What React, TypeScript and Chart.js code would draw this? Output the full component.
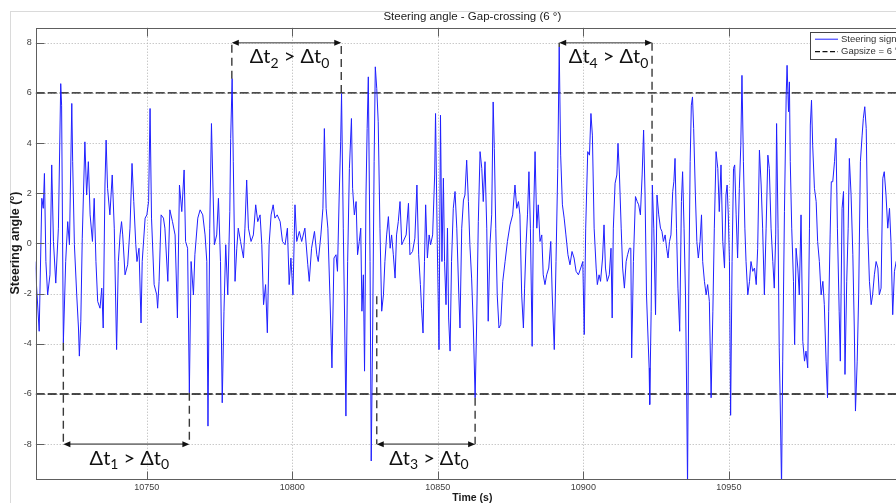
import React, { useEffect, useRef } from "react";
import { Chart, registerables } from "chart.js";
Chart.register(...registerables);

const FONT = '"Liberation Sans", Arial, Helvetica, sans-serif';
const ANNOT_FONT = 'Lato, "Open Sans", sans-serif';

// ---- data ----
const timeS = [
  10711.6, 10713.0, 10713.9, 10714.4, 10714.8, 10715.3, 10715.9, 10716.7, 10717.3, 10717.9,
  10718.7, 10719.6, 10720.4, 10720.7, 10721.3, 10722.1, 10722.8, 10723.4, 10724.2, 10724.5,
  10725.1, 10725.9, 10726.5, 10726.8, 10727.3, 10727.8, 10728.7, 10729.3, 10729.9, 10730.5,
  10731.3, 10731.9, 10732.5, 10733.1, 10733.9, 10734.5, 10735.0, 10735.6, 10736.0, 10736.5,
  10737.3, 10738.1, 10738.8, 10739.6, 10740.2, 10740.8, 10741.3, 10741.7, 10742.5, 10743.4,
  10744.2, 10744.9, 10745.5, 10746.2, 10746.6, 10747.3, 10748.0, 10748.4, 10749.4, 10750.0,
  10750.6, 10751.1, 10751.6, 10752.5, 10753.4, 10753.7, 10754.2, 10754.9, 10755.7, 10756.2,
  10757.2, 10757.9, 10758.8, 10759.7, 10760.5, 10761.2, 10762.0, 10762.8, 10763.3, 10764.0,
  10764.6, 10765.2, 10766.0, 10766.5, 10767.5, 10768.3, 10769.2, 10770.0, 10770.6, 10771.0,
  10771.6, 10772.2, 10772.7, 10773.2, 10774.0, 10774.6, 10775.3, 10775.9, 10776.5, 10777.1,
  10777.8, 10778.5, 10778.8, 10779.3, 10779.7, 10780.3, 10780.9, 10781.4, 10782.2, 10783.2,
  10783.7, 10784.3, 10784.9, 10785.8, 10786.6, 10787.4, 10788.1, 10788.9, 10789.5, 10790.1,
  10790.8, 10791.4, 10792.0, 10792.7, 10793.4, 10794.0, 10794.8, 10795.8, 10796.6, 10797.5,
  10798.3, 10798.9, 10799.5, 10800.2, 10800.9, 10801.5, 10802.4, 10803.2, 10804.3, 10805.3,
  10805.8, 10806.6, 10807.6, 10808.4, 10808.9, 10809.8, 10810.5, 10811.0, 10811.6, 10812.2,
  10812.9, 10813.6, 10814.3, 10815.0, 10815.5, 10816.1, 10816.6, 10816.9, 10817.5, 10818.0,
  10818.4, 10819.0, 10819.6, 10820.3, 10820.7, 10821.3, 10821.9, 10822.4, 10823.0, 10823.5,
  10823.9, 10824.4, 10824.8, 10825.3, 10825.7, 10826.1, 10826.7, 10827.1, 10827.6, 10828.1,
  10828.5, 10829.0, 10829.5, 10830.1, 10830.7, 10831.3, 10831.8, 10832.4, 10833.0, 10833.6,
  10834.1, 10834.7, 10835.3, 10835.8, 10836.4, 10837.0, 10837.6, 10838.1, 10839.1, 10839.9,
  10840.4, 10841.3, 10842.1, 10842.8, 10843.4, 10844.0, 10844.4, 10844.9, 10845.4, 10845.8,
  10846.4, 10847.0, 10847.5, 10848.2, 10848.9, 10849.2, 10849.8, 10850.4, 10850.9, 10851.4,
  10851.9, 10852.3, 10852.8, 10853.3, 10853.7, 10854.2, 10854.7, 10855.3, 10855.9, 10856.5,
  10857.2, 10857.6, 10858.2, 10858.8, 10859.3, 10859.9, 10860.5, 10861.0, 10861.6, 10862.2,
  10862.8, 10863.3, 10863.9, 10864.5, 10865.1, 10865.6, 10866.2, 10866.8, 10867.3, 10867.9,
  10868.5, 10869.0, 10869.4, 10869.9, 10870.4, 10871.0, 10871.6, 10872.3, 10873.1, 10873.9,
  10874.8, 10875.7, 10876.5, 10877.1, 10877.7, 10878.2, 10878.8, 10879.4, 10879.8, 10880.3,
  10880.8, 10881.3, 10881.8, 10882.4, 10882.8, 10883.4, 10884.0, 10884.5, 10885.1, 10885.7,
  10886.2, 10886.8, 10887.4, 10888.1, 10888.8, 10889.3, 10890.0, 10890.6, 10891.2, 10891.7,
  10892.2, 10892.8, 10893.4, 10894.0, 10894.7, 10895.4, 10896.1, 10896.8, 10897.5, 10898.3,
  10899.1, 10899.8, 10900.3, 10900.8, 10901.5, 10902.1, 10902.6, 10903.1, 10903.7, 10904.4,
  10904.8, 10905.4, 10905.9, 10906.6, 10907.1, 10907.6, 10908.2, 10908.9, 10909.5, 10909.9,
  10910.3, 10910.9, 10911.5, 10911.9, 10912.4, 10913.0, 10913.5, 10914.1, 10914.7, 10915.2,
  10915.8, 10916.3, 10916.6, 10917.2, 10917.9, 10918.5, 10919.0, 10919.6, 10920.2, 10920.7,
  10921.2, 10921.7, 10922.1, 10922.6, 10922.8, 10923.3, 10923.7, 10924.2, 10924.8, 10925.3,
  10925.9, 10926.5, 10927.0, 10927.5, 10928.1, 10928.6, 10929.1, 10929.6, 10930.1, 10930.7,
  10931.1, 10931.5, 10932.0, 10932.5, 10933.1, 10933.7, 10934.1, 10934.6, 10935.1, 10935.5,
  10935.8, 10936.2, 10936.7, 10937.1, 10937.5, 10937.9, 10938.5, 10939.0, 10939.5, 10940.1,
  10940.6, 10941.0, 10941.6, 10942.2, 10942.7, 10943.3, 10943.9, 10944.5, 10945.0, 10945.6,
  10946.2, 10946.7, 10947.3, 10947.9, 10948.5, 10949.0, 10949.4, 10949.8, 10950.2, 10950.6,
  10951.1, 10951.6, 10952.0, 10952.5, 10953.0, 10953.6, 10954.1, 10954.5, 10955.0, 10955.5,
  10955.9, 10956.5, 10957.1, 10957.6, 10958.2, 10958.8, 10959.4, 10959.9, 10960.5, 10961.1,
  10961.6, 10962.2, 10962.8, 10963.4, 10963.9, 10964.5, 10965.1, 10965.6, 10966.1, 10966.4,
  10966.9, 10967.3, 10967.6, 10968.1, 10968.5, 10969.1, 10969.7, 10970.0, 10970.5, 10970.8,
  10971.1, 10971.6, 10972.2, 10972.6, 10973.1, 10973.7, 10974.2, 10974.8, 10975.4, 10976.0,
  10976.5, 10977.1, 10977.7, 10978.0, 10978.4, 10978.8, 10979.4, 10980.0, 10980.5, 10981.1,
  10981.7, 10982.3, 10982.8, 10983.4, 10983.9, 10984.3, 10984.8, 10985.2, 10985.7, 10986.3,
  10986.8, 10987.3, 10987.9, 10988.3, 10988.9, 10989.4, 10989.9, 10990.5, 10991.0, 10991.4,
  10992.0, 10992.6, 10993.1, 10993.5, 10994.1, 10994.6, 10995.2, 10995.8, 10996.2, 10996.7,
  10997.2, 10997.7, 10998.3, 10998.9, 10999.4, 11000.0, 11000.6, 11001.2, 11001.7, 11002.3,
  11002.9, 11003.4, 11004.0, 11004.6, 11005.2, 11005.7, 11006.3, 11006.9, 11007.5, 11009.0,
  11010.5, 11012.0,
];

const steering = [
  -0.72, -3.50, 1.80, 1.40, 2.79, -0.72, -2.05, -1.25, 3.13, 0.08,
  -1.58, 0.61, 6.37, 5.51, -3.96, -0.72, 0.87, -0.05, 5.58, 3.26,
  -0.05, -2.05, -3.37, -4.49, -3.10, 0.21, 4.05, 1.93, 3.26, 1.14,
  0.08, 1.80, -0.72, -2.31, -2.58, -1.78, -3.37, 2.33, 4.12, 2.20,
  1.14, 2.73, 0.61, -4.23, -0.72, 0.34, 0.87, 0.34, -1.25, -0.85,
  0.61, 3.19, 1.67, -0.05, -0.72, -0.19, -3.17, -0.72, 1.01, 1.14,
  1.67, 5.38, 1.01, -1.64, -2.05, -2.58, -1.51, 1.14, 1.01, 0.61,
  -1.51, 1.34, 0.87, 0.34, -2.97, 2.33, 1.27, 2.93, 0.08, -0.19,
  -5.95, -0.72, -2.05, -0.45, 1.01, 1.34, 1.14, 0.34, -0.72, -7.28,
  0.61, 4.78, 2.33, -0.05, 0.34, 1.80, -0.72, -6.35, -2.70, -0.05,
  -2.05, 1.27, 4.19, 6.57, 3.26, -1.51, -0.19, 0.61, 0.08, -0.58,
  0.61, 2.53, 0.61, 0.08, 0.34, 1.54, 0.87, 1.14, -0.05, -2.44,
  -1.64, -3.56, -0.05, 1.14, 1.54, 1.01, 1.14, 0.87, 0.08, -0.05,
  0.61, -1.64, -0.58, -2.05, 1.54, 0.08, 0.48, 0.08, 0.61, -0.85,
  -1.51, -0.19, 0.48, -0.45, -0.72, 0.34, 1.40, 4.58, 1.40, 0.61,
  -2.05, -4.96, -0.58, -0.45, -1.11, 1.93, 4.05, 5.97, 0.61, -3.37,
  -6.88, -0.72, 2.99, 4.98, 2.20, 1.14, 1.67, -0.45, 0.08, 0.61,
  -2.70, -1.25, -5.09, 1.93, 4.58, 6.64, -0.72, -8.67, -3.37, 3.26,
  7.04, 6.17, 4.85, 0.61, -2.70, -2.05, -0.72, 0.34, 1.07, -0.19,
  0.34, -0.45, -1.38, 0.34, 0.87, 1.67, -0.05, 0.08, 0.34, 1.60,
  -0.45, -0.32, 0.21, 2.33, -0.45, -1.64, -2.58, -3.57, -0.72, 1.54,
  -0.58, 0.34, -0.05, 0.34, 2.73, 5.18, -0.05, -4.23, 5.11, -0.72,
  2.60, -0.72, -2.44, 0.61, -2.97, -4.29, -0.72, 1.40, 2.07, 0.61,
  -2.05, -3.37, 0.61, 1.73, 1.93, 3.32, 1.67, -0.05, -1.38, -3.37,
  -6.15, -3.37, 0.87, 3.66, 2.99, 1.67, 3.26, 0.61, -3.10, -0.05,
  1.14, 5.64, 3.79, 0.61, -2.05, -3.37, -3.23, -1.51, -0.72, 0.08,
  0.74, 1.14, 2.33, 1.40, 1.67, 1.14, -2.05, -3.37, -1.78, -0.05,
  1.14, 2.86, 0.61, -4.10, 0.61, 3.66, 0.61, 1.54, 0.08, 0.34,
  -1.25, -1.64, -1.25, -0.98, 0.08, -2.05, -4.23, -0.72, 2.99, 7.83,
  3.52, 1.54, 1.01, 0.34, -0.45, -0.85, -0.32, -0.58, -1.11, -1.25,
  -0.98, -0.72, -3.63, 0.61, 3.66, 3.52, 5.18, 4.32, 0.61, -0.98,
  -1.64, -1.25, -1.51, -0.58, 0.74, -0.98, -1.51, -1.25, -0.19, -2.97,
  0.61, 2.40, 2.73, 3.99, 2.73, 0.61, -0.98, -1.78, -0.72, -0.45,
  -0.19, -0.19, -4.56, -0.72, 1.87, 1.67, 1.54, 1.14, 2.73, 4.52,
  1.93, -2.05, -3.37, -4.96, -6.42, -2.70, 2.33, 0.61, -2.84, 1.93,
  1.14, 0.61, 0.48, 0.08, 0.34, -0.19, -0.58, 0.08, 0.34, 2.07,
  2.46, 3.39, 0.61, -1.78, -3.50, 1.67, 2.86, 0.61, -2.05, -6.02,
  -9.73, -2.05, 3.26, 5.51, 5.84, 4.58, 1.93, 0.08, -0.58, 0.08,
  1.14, -0.72, -1.51, -2.05, -1.64, -2.31, -6.15, -2.70, 0.61, 3.66,
  2.99, 1.27, 3.13, 0.08, -0.98, 1.93, 2.33, 1.14, -0.72, -6.85,
  -0.72, 2.99, 3.13, 1.14, -0.58, 2.20, 3.92, 6.70, 3.26, 0.61,
  -0.72, -2.05, -1.51, -0.72, -1.11, -0.98, -1.64, -0.19, 3.72, 2.33,
  0.61, -2.05, 0.61, 3.52, 2.99, 0.61, -0.72, -1.78, 0.34, 4.78,
  0.61, -4.16, -6.02, -9.73, -4.69, 1.27, 5.91, 7.10, 5.25, 6.44,
  3.26, 0.61, -1.51, -4.03, -0.19, -0.98, -2.05, 1.14, -3.90, -4.69,
  -4.29, -4.96, 0.61, 4.72, 5.71, 3.92, 2.20, 1.67, 0.08, -0.72,
  -2.05, -1.51, -2.44, -4.69, -6.15, -2.70, 0.34, 2.46, 2.46, 3.26,
  4.19, 0.61, -2.70, -4.69, 1.40, 2.07, -5.22, -1.51, 0.61, 3.39,
  1.93, -0.45, -3.37, -6.68, -4.69, -2.05, 3.26, 4.32, 4.98, 5.45,
  4.58, 0.61, -1.51, -2.44, -2.05, -1.25, -0.72, -0.98, -2.05, -1.78,
  2.60, 2.86, 1.93, 0.61, 1.40, 0.08, -2.84, -1.11, -0.72, -1.50,
  0.40, 1.20,
];

const gapSize = 6;
const xTicks = [10750, 10800, 10850, 10900, 10950];
const yTicks = [-8, -6, -4, -2, 0, 2, 4, 6, 8];
const xMin = 10711.8;
const xMax = 11011.9;
const yMin = -9.4;
const yMax = 8.6;

// Δt annotations
const dtIndex = [1, 2, 3, 4];
const dtStart = [10721.3, 10779.2, 10829.0, 10891.7];
const dtEnd = [10764.6, 10816.8, 10862.8, 10923.6];
const dtArrowLevel = [-8, 8, -8, 8];
const dtStartFrom = [-3.96, 6.57, -2.1, 7.83];
const dtEndFrom = [-5.95, 6.0, -6.15, 2.5];

const chartTitle = "Steering angle - Gap-crossing (6 °)";
const xLabel = "Time (s)";
const yLabel = "Steering angle (°)";
const legendLabels = ["Steering signal", "Gapsize = 6 °"];

function drawDt(ctx: CanvasRenderingContext2D, cx: number, baseY: number, idx: number) {
  const big = `20px ${ANNOT_FONT}`;
  const small = `14px ${ANNOT_FONT}`;
  const parts: [string, boolean][] = [["Δt", false], [String(idx), true], [" > Δt", false], ["0", true]];
  let w = 0;
  parts.forEach(([t, s]) => {
    ctx.font = s ? small : big;
    w += ctx.measureText(t).width;
  });
  let xx = cx - w / 2;
  ctx.textAlign = "left";
  ctx.textBaseline = "alphabetic";
  ctx.fillStyle = "#111";
  parts.forEach(([t, s]) => {
    ctx.font = s ? small : big;
    ctx.fillText(t, xx, s ? baseY + 4.5 : baseY);
    xx += ctx.measureText(t).width;
  });
}

const matlabPlugin = {
  id: "matlab",
  beforeDatasetsDraw(chart: any) {
    const { ctx, chartArea: a, scales } = chart;
    const x = scales.x;
    const y = scales.y;
    ctx.save();
    ctx.strokeStyle = "#b0b0b0";
    ctx.lineWidth = 1;
    ctx.setLineDash([1, 2]);
    ctx.beginPath();
    xTicks.forEach((v) => {
      const p = Math.round(x.getPixelForValue(v)) + 0.5;
      ctx.moveTo(p, a.top);
      ctx.lineTo(p, a.bottom);
    });
    yTicks.forEach((v) => {
      const p = Math.round(y.getPixelForValue(v)) + 0.5;
      ctx.moveTo(a.left, p);
      ctx.lineTo(a.right, p);
    });
    ctx.stroke();
    ctx.restore();
  },
  afterDatasetsDraw(chart: any) {
    const { ctx, chartArea: a, scales } = chart;
    const x = scales.x;
    const y = scales.y;
    ctx.save();
    // axes box
    const L = Math.round(a.left) + 0.5;
    const T = Math.round(a.top) + 0.5;
    const R = Math.round(a.right) + 0.5;
    const B = Math.round(a.bottom) + 0.5;
    ctx.setLineDash([]);
    ctx.strokeStyle = "#5e5e5e";
    ctx.lineWidth = 1;
    ctx.strokeRect(L, T, R - L, B - T);
    // inward ticks
    const tl = 8;
    ctx.beginPath();
    xTicks.forEach((v) => {
      const p = Math.round(x.getPixelForValue(v)) + 0.5;
      ctx.moveTo(p, B);
      ctx.lineTo(p, B - tl);
      ctx.moveTo(p, T);
      ctx.lineTo(p, T + tl);
    });
    yTicks.forEach((v) => {
      const p = Math.round(y.getPixelForValue(v)) + 0.5;
      ctx.moveTo(L, p);
      ctx.lineTo(L + tl, p);
      ctx.moveTo(R, p);
      ctx.lineTo(R - tl, p);
    });
    ctx.stroke();

    // Δt annotations
    dtIndex.forEach((idx, i) => {
      const xs = x.getPixelForValue(dtStart[i]);
      const xe = x.getPixelForValue(dtEnd[i]);
      const ya = y.getPixelForValue(dtArrowLevel[i]);
      ctx.strokeStyle = "#3a3a3a";
      ctx.lineWidth = 1.4;
      ctx.setLineDash([8, 5]);
      ctx.beginPath();
      ctx.moveTo(xs, y.getPixelForValue(dtStartFrom[i]));
      ctx.lineTo(xs, ya);
      ctx.moveTo(xe, y.getPixelForValue(dtEndFrom[i]));
      ctx.lineTo(xe, ya);
      ctx.stroke();
      ctx.setLineDash([]);
      ctx.strokeStyle = "#7a7a7a";
      ctx.lineWidth = 1.7;
      ctx.beginPath();
      ctx.moveTo(xs + 5, ya);
      ctx.lineTo(xe - 5, ya);
      ctx.stroke();
      ctx.fillStyle = "#111";
      ctx.beginPath();
      ctx.moveTo(xs, ya);
      ctx.lineTo(xs + 7, ya - 3);
      ctx.lineTo(xs + 7, ya + 3);
      ctx.closePath();
      ctx.fill();
      ctx.beginPath();
      ctx.moveTo(xe, ya);
      ctx.lineTo(xe - 7, ya - 3);
      ctx.lineTo(xe - 7, ya + 3);
      ctx.closePath();
      ctx.fill();
      drawDt(ctx, (xs + xe) / 2 + 3, ya + 20.5, idx);
    });

    // legend
    const lx = a.right - 99;
    const ly = a.top + 4;
    ctx.fillStyle = "#fff";
    ctx.fillRect(lx, ly, 112, 27);
    ctx.strokeStyle = "#444";
    ctx.lineWidth = 1;
    ctx.strokeRect(Math.round(lx) + 0.5, Math.round(ly) + 0.5, 112, 27);
    ctx.strokeStyle = "#2020ff";
    ctx.lineWidth = 1;
    ctx.beginPath();
    ctx.moveTo(lx + 5, ly + 7.5);
    ctx.lineTo(lx + 28, ly + 7.5);
    ctx.stroke();
    ctx.strokeStyle = "#111";
    ctx.lineWidth = 1.3;
    ctx.setLineDash([5, 2.5]);
    ctx.beginPath();
    ctx.moveTo(lx + 5, ly + 20);
    ctx.lineTo(lx + 28, ly + 20);
    ctx.stroke();
    ctx.setLineDash([]);
    ctx.fillStyle = "#333";
    ctx.font = `9.5px ${FONT}`;
    ctx.textAlign = "left";
    ctx.textBaseline = "middle";
    ctx.fillText(legendLabels[0], lx + 31, ly + 7.5);
    ctx.fillText(legendLabels[1], lx + 31, ly + 20);
    ctx.restore();
  },
  afterDraw(chart: any) {
    const { ctx, chartArea: a } = chart;
    ctx.save();
    const cx = (a.left + a.right) / 2;
    ctx.fillStyle = "#1a1a1a";
    ctx.textAlign = "center";
    ctx.textBaseline = "middle";
    ctx.font = `11.5px ${FONT}`;
    ctx.fillText(chartTitle, cx, 17);
    ctx.font = `bold 10.5px ${FONT}`;
    ctx.fillText(xLabel, cx, 498);
    ctx.translate(15.5, 243);
    ctx.rotate(-Math.PI / 2);
    ctx.font = `bold 12.5px ${FONT}`;
    ctx.fillText(yLabel, 0, 0);
    ctx.restore();
  },
};

export default function App() {
  const ref = useRef<HTMLCanvasElement>(null);
  useEffect(() => {
    const canvas = ref.current!;
    const signal = timeS.map((t, i) => ({ x: t, y: steering[i] }));
    const upper = [{ x: xMin, y: gapSize }, { x: xMax, y: gapSize }];
    const lower = [{ x: xMin, y: -gapSize }, { x: xMax, y: -gapSize }];
    const chart = new Chart(canvas, {
      type: "line",
      data: {
        datasets: [
          { label: legendLabels[0], data: signal, borderColor: "#2020ff", borderWidth: 1, pointRadius: 0, tension: 0, fill: false },
          { label: legendLabels[1], data: upper, borderColor: "#111", borderWidth: 1.3, borderDash: [9, 3], pointRadius: 0, fill: false },
          { label: "", data: lower, borderColor: "#111", borderWidth: 1.3, borderDash: [9, 3], pointRadius: 0, fill: false },
        ],
      },
      options: {
        responsive: false,
        animation: false,
        events: [],
        layout: { padding: { left: 0, right: 21, top: 27.7, bottom: 0 } },
        plugins: { legend: { display: false }, title: { display: false }, tooltip: { enabled: false } },
        scales: {
          x: {
            type: "linear",
            min: xMin,
            max: xMax,
            afterFit: (s: any) => { s.height = 23.7; },
            afterBuildTicks: (s: any) => { s.ticks = xTicks.map((v) => ({ value: v })); },
            grid: { display: false, drawTicks: false },
            border: { display: false },
            ticks: { padding: 3, font: { size: 9, family: FONT }, color: "#404040", callback: (v: any) => String(v), maxRotation: 0, autoSkip: false },
          },
          y: {
            type: "linear",
            min: yMin,
            max: yMax,
            afterFit: (s: any) => { s.width = 35.7; },
            afterBuildTicks: (s: any) => { s.ticks = yTicks.map((v) => ({ value: v })); },
            grid: { display: false, drawTicks: false },
            border: { display: false },
            ticks: { padding: 4, font: { size: 9, family: FONT }, color: "#404040", callback: (v: any) => String(v), autoSkip: false },
          },
        },
      } as any,
      plugins: [matlabPlugin],
    });
    return () => chart.destroy();
  }, []);
  return (
    <div style={{ position: "absolute", left: 0, top: 0, width: 896, height: 503, overflow: "hidden", background: "#fff" }}>
      <div style={{ position: "absolute", left: 10, top: 11, width: 1000, height: 600, border: "1px solid #dadada", boxSizing: "border-box" }} />
      <canvas ref={ref} width={930} height={503} style={{ position: "absolute", left: 0, top: 0 }} />
    </div>
  );
}
